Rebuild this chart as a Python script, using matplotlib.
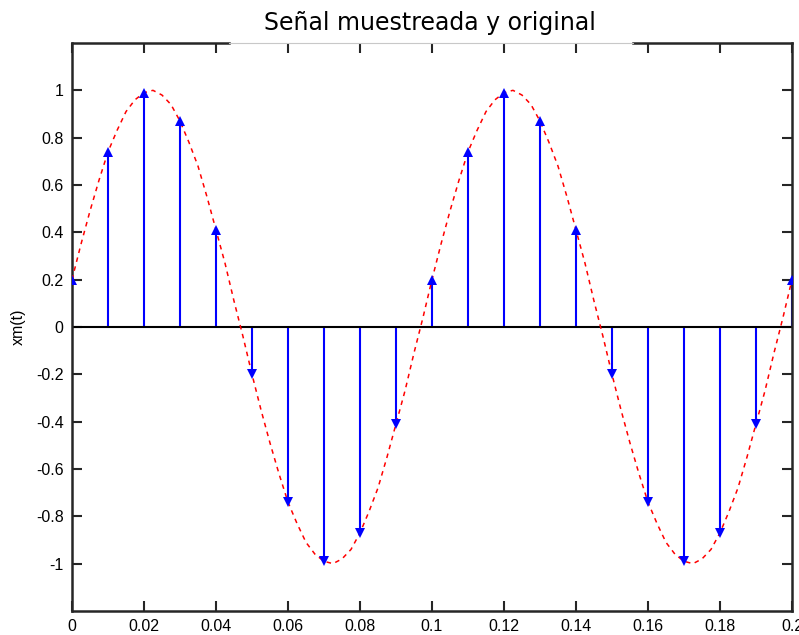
"""Sampled sine vs. original signal, drawn as a MATLAB-style stem plot."""

import numpy as np
import matplotlib

matplotlib.use("Agg")
import matplotlib.pyplot as plt

# Sample instants (s) and sampled values xm(t)
t_samples = [0.00, 0.01, 0.02, 0.03, 0.04, 0.05, 0.06, 0.07, 0.08, 0.09, 0.10,
             0.11, 0.12, 0.13, 0.14, 0.15, 0.16, 0.17, 0.18, 0.19, 0.20]
x_samples = [0.20, 0.74, 0.99, 0.87, 0.41, -0.20, -0.74, -0.99, -0.87, -0.41, 0.20,
             0.74, 0.99, 0.87, 0.41, -0.20, -0.74, -0.99, -0.87, -0.41, 0.20]

# Original signal, read every 2.5 ms
t_orig = [i * 0.0025 for i in range(81)]
x_orig = [0.20, 0.35, 0.49, 0.62, 0.74, 0.83, 0.91, 0.96, 0.99, 1.00,
          0.98, 0.94, 0.87, 0.78, 0.68, 0.55, 0.41, 0.27, 0.11, -0.04,
          -0.20, -0.35, -0.49, -0.62, -0.74, -0.83, -0.91, -0.96, -0.99, -1.00,
          -0.98, -0.94, -0.87, -0.78, -0.68, -0.55, -0.41, -0.27, -0.11, 0.04,
          0.20, 0.35, 0.49, 0.62, 0.74, 0.83, 0.91, 0.96, 0.99, 1.00,
          0.98, 0.94, 0.87, 0.78, 0.68, 0.55, 0.41, 0.27, 0.11, -0.04,
          -0.20, -0.35, -0.49, -0.62, -0.74, -0.83, -0.91, -0.96, -0.99, -1.00,
          -0.98, -0.94, -0.87, -0.78, -0.68, -0.55, -0.41, -0.27, -0.11, 0.04,
          0.20]

x_ticks = [0, 0.02, 0.04, 0.06, 0.08, 0.1, 0.12, 0.14, 0.16, 0.18, 0.2]
x_tick_labels = ["0", "0.02", "0.04", "0.06", "0.08", "0.1", "0.12", "0.14",
                 "0.16", "0.18", "0.2"]
y_ticks = [-1, -0.8, -0.6, -0.4, -0.2, 0, 0.2, 0.4, 0.6, 0.8, 1]
y_tick_labels = ["-1", "-0.8", "-0.6", "-0.4", "-0.2", "0", "0.2", "0.4",
                 "0.6", "0.8", "1"]

TICK_FONT = "Liberation Sans"
AX_COLOR = "#262626"


def main() -> None:
    fig = plt.figure(figsize=(7.99, 6.35), dpi=100)
    ax = fig.add_axes([0.0901, 0.0378, 0.9011, 0.8945])

    ts = np.array(t_samples)
    xs = np.array(x_samples)

    # original signal (dashed red)
    ax.plot(t_orig, x_orig, "--", color="#ff0000", lw=1.1, dashes=(3, 3), zorder=3)

    # stems + baseline
    ax.vlines(ts, 0, xs, color="#0000ff", lw=1.5, zorder=2)
    ax.axhline(0, color="black", lw=1.5, zorder=2.5)
    pos = xs >= 0
    ax.plot(ts[pos], xs[pos], "^", color="#0000ff", ms=7.5, mew=0, zorder=4)
    ax.plot(ts[~pos], xs[~pos], "v", color="#0000ff", ms=7.5, mew=0, zorder=4)

    ax.set_xlim(0, 0.2)
    ax.set_ylim(-1.2, 1.2)
    ax.set_xticks(x_ticks)
    ax.set_xticklabels(x_tick_labels, fontfamily=TICK_FONT, fontsize=11.5)
    ax.set_yticks(y_ticks)
    ax.set_yticklabels(y_tick_labels, fontfamily=TICK_FONT, fontsize=11.5)
    ax.tick_params(direction="in", length=7, width=1.5, color=AX_COLOR,
                   top=True, right=True, pad=6)
    for side in ("left", "right", "bottom"):
        ax.spines[side].set_color(AX_COLOR)
        ax.spines[side].set_linewidth(1.8)

    # top spine is broken where the title box sits over it
    ax.spines["top"].set_visible(False)
    ax.axhline(1.2, xmin=0, xmax=0.218, color=AX_COLOR, lw=1.8, clip_on=False)
    ax.axhline(1.2, xmin=0.779, xmax=1, color=AX_COLOR, lw=1.8, clip_on=False)
    ax.axhline(1.2, xmin=0.218, xmax=0.779, color="#c8c8c8", lw=0.8, clip_on=False)

    ax.set_ylabel("xm(t)", fontfamily=TICK_FONT, fontsize=11.5, labelpad=7)
    fig.text(0.538, 0.964, "Señal muestreada y original", ha="center",
             va="center", fontfamily="DejaVu Sans", fontsize=17)

    fig.savefig("out.png", dpi=100)


if __name__ == "__main__":
    main()
